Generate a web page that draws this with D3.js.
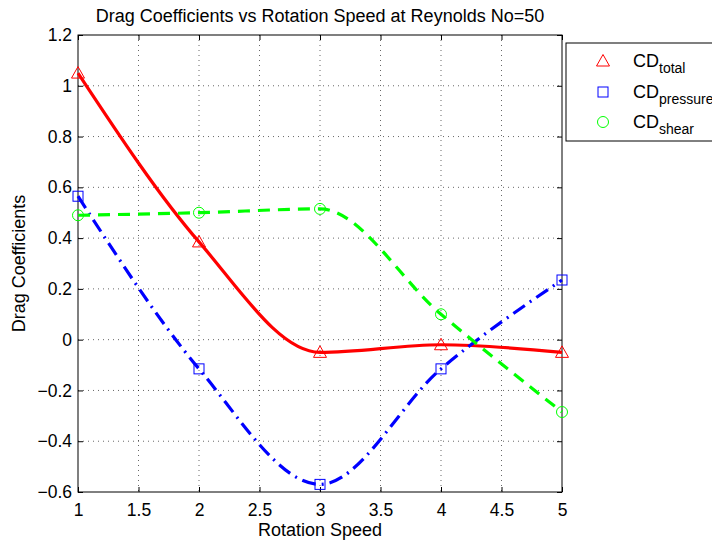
<!DOCTYPE html>
<html>
<head>
<meta charset="utf-8">
<script src="https://cdn.jsdelivr.net/npm/d3@7"></script>
<style>
  html, body { margin: 0; padding: 0; background: #fff; }
  svg { display: block; font-family: "Liberation Sans", Arial, Helvetica, sans-serif; }
</style>
</head>
<body>
<svg id="chart" width="712" height="543"></svg>
<script>
// Rotation speeds and drag coefficient series
const speeds = [1, 2, 3, 4, 5];
const cdTotal = [1.05, 0.385, -0.05, -0.02, -0.05];
const cdPressure = [0.565, -0.115, -0.57, -0.115, 0.235];
const cdShear = [0.49, 0.5, 0.515, 0.1, -0.285];

const xTicks = [1, 1.5, 2, 2.5, 3, 3.5, 4, 4.5, 5];
const yTicks = [-0.6, -0.4, -0.2, 0, 0.2, 0.4, 0.6, 0.8, 1, 1.2];

const seriesNames = ["total", "pressure", "shear"];

(function () {
const svg = d3.select("#chart");
const pLeft = 78, pRight = 562, pTop = 35, pBottom = 492;

const x = d3.scaleLinear().domain([1, 5]).range([pLeft, pRight]);
const y = d3.scaleLinear().domain([-0.6, 1.2]).range([pBottom, pTop]);

const fmt = v => (v < 0 ? "\u2212" : "") + String(Math.abs(Math.round(v * 10) / 10));

// Dotted grid
const grid = svg.append("g");
grid.selectAll("line.gx").data(xTicks.slice(1, -1)).join("line")
  .attr("x1", d => x(d)).attr("x2", d => x(d))
  .attr("y1", pTop).attr("y2", pBottom)
  .attr("stroke", "#000").attr("stroke-width", 0.6).attr("stroke-dasharray", "1,4");
grid.selectAll("line.gy").data(yTicks.slice(1, -1)).join("line")
  .attr("x1", pLeft).attr("x2", pRight)
  .attr("y1", d => y(d)).attr("y2", d => y(d))
  .attr("stroke", "#000").attr("stroke-width", 0.6).attr("stroke-dasharray", "1,4");

// Axes with inward ticks on all four sides
const tickLen = 5;
svg.append("g").attr("transform", `translate(0,${pBottom})`)
  .call(d3.axisBottom(x).tickValues(xTicks).tickSizeInner(-tickLen).tickSizeOuter(0).tickPadding(12).tickFormat(d => String(d)))
  .call(g => g.select(".domain").remove());
svg.append("g").attr("transform", `translate(0,${pTop})`)
  .call(d3.axisTop(x).tickValues(xTicks).tickSizeInner(-tickLen).tickSizeOuter(0).tickFormat(""))
  .call(g => g.select(".domain").remove());
svg.append("g").attr("transform", `translate(${pLeft},0)`)
  .call(d3.axisLeft(y).tickValues(yTicks).tickSizeInner(-tickLen).tickSizeOuter(0).tickPadding(6).tickFormat(fmt))
  .call(g => g.select(".domain").remove());
svg.append("g").attr("transform", `translate(${pRight},0)`)
  .call(d3.axisRight(y).tickValues(yTicks).tickSizeInner(-tickLen).tickSizeOuter(0).tickFormat(""))
  .call(g => g.select(".domain").remove());

svg.selectAll(".tick text").attr("font-size", 17.5).attr("fill", "#000")
  .attr("font-family", "'Liberation Sans', Arial, sans-serif");
svg.selectAll(".tick line").attr("stroke", "#000");

svg.append("rect").attr("x", pLeft).attr("y", pTop)
  .attr("width", pRight - pLeft).attr("height", pBottom - pTop)
  .attr("fill", "none").attr("stroke", "#000").attr("stroke-width", 1);

// Series
const series = [
  { key: seriesNames[0], values: cdTotal, color: "#ff0000", dash: null, marker: "triangle" },
  { key: seriesNames[1], values: cdPressure, color: "#0000ff", dash: "14,6,2,6", marker: "square" },
  { key: seriesNames[2], values: cdShear, color: "#00ff00", dash: "12,8", marker: "circle" }
];

const line = d3.line().x(d => x(d[0])).y(d => y(d[1])).curve(d3.curveMonotoneX);

const plot = svg.append("g");
series.forEach(s => {
  const pts = speeds.map((v, i) => [v, s.values[i]]);
  plot.append("path").datum(pts)
    .attr("d", line)
    .attr("fill", "none").attr("stroke", s.color).attr("stroke-width", 3.2)
    .attr("stroke-dasharray", s.dash);
});

function drawMarker(g, type, cx, cy, color) {
  if (type === "triangle") {
    g.append("path").attr("d", `M${cx},${cy - 6.5}L${cx + 6.5},${cy + 5}L${cx - 6.5},${cy + 5}Z`)
      .attr("fill", "none").attr("stroke", color).attr("stroke-width", 1);
  } else if (type === "square") {
    g.append("rect").attr("x", cx - 5).attr("y", cy - 5).attr("width", 10).attr("height", 10)
      .attr("fill", "none").attr("stroke", color).attr("stroke-width", 1);
  } else {
    g.append("circle").attr("cx", cx).attr("cy", cy).attr("r", 5.5)
      .attr("fill", "none").attr("stroke", color).attr("stroke-width", 1);
  }
}

series.forEach(s => {
  speeds.forEach((v, i) => drawMarker(plot, s.marker, x(v), y(s.values[i]), s.color));
});

// Title and axis labels
svg.append("text").attr("x", (pLeft + pRight) / 2).attr("y", 22)
  .attr("text-anchor", "middle").attr("font-size", 18).text("Drag Coefficients vs Rotation Speed at Reynolds No=50");
svg.append("text").attr("x", (pLeft + pRight) / 2).attr("y", 536)
  .attr("text-anchor", "middle").attr("font-size", 18).text("Rotation Speed");
svg.append("text").attr("transform", `translate(25,${(pTop + pBottom) / 2}) rotate(-90)`)
  .attr("text-anchor", "middle").attr("font-size", 18).text("Drag Coefficients");

// Legend
const legend = svg.append("g");
legend.append("rect").attr("x", 566).attr("y", 43).attr("width", 160).attr("height", 98)
  .attr("fill", "#fff").attr("stroke", "#000").attr("stroke-width", 1);
const rowY = [61, 92, 122];
series.forEach((s, i) => {
  drawMarker(legend, s.marker, 603, rowY[i], s.color);
  const t = legend.append("text").attr("x", 633).attr("y", rowY[i] + 6).attr("font-size", 18);
  t.append("tspan").text("CD");
  t.append("tspan").attr("dy", 6).attr("font-size", 14).text(s.key);
});
})();
</script>
</body>
</html>
